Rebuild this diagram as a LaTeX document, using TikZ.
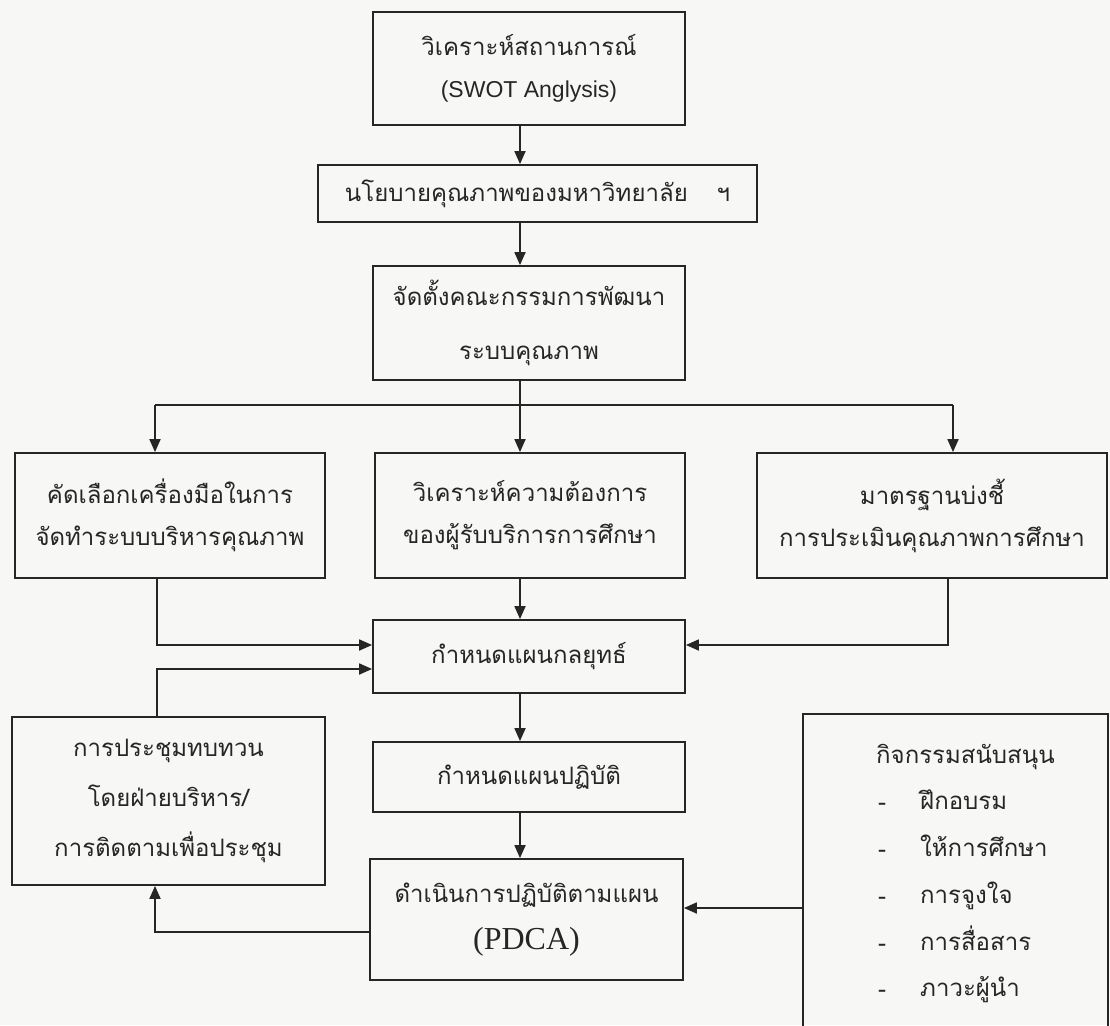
\documentclass[tikz,border=0pt]{standalone}
\usepackage{fontspec}
\newfontfamily\thaifont[Script=Thai]{Loma}
\newfontfamily\arialfont{Liberation Sans}
\newfontfamily\timesfont{Liberation Serif}
\usetikzlibrary{arrows.meta}
\definecolor{ink}{HTML}{262626}
\definecolor{paper}{HTML}{F7F7F5}
\begin{document}
\begin{tikzpicture}[x=1pt,y=-1pt,
  box/.style={draw=ink, line width=1.8pt, inner sep=0pt, align=center, text=ink,
    font=\thaifont\fontsize{24}{42}\selectfont},
  txt/.style={inner sep=0pt, text=ink, anchor=base west, font=\thaifont\fontsize{24}{30}\selectfont},
  ln/.style={draw=ink, line width=1.8pt},
  arr/.style={draw=ink, line width=1.8pt, -{Triangle[length=13pt,width=11pt]}}]
\useasboundingbox (0,0) rectangle (1110,1025);
\fill[paper] (0,0) rectangle (1110,1025);
\clip (0,0) rectangle (1110,1025);

\node[box, minimum width=312pt, minimum height=113pt] (swot) at (529,68.5)
  {วิเคราะห์สถานการณ์\\{\arialfont\fontsize{23}{28}\selectfont (SWOT Anglysis)}};
\node[box, minimum width=439pt, minimum height=57pt] (policy) at (537.5,193.5)
  {นโยบายคุณภาพของมหาวิทยาลัย\hspace{1.2em}ฯ};
\node[box, minimum width=312pt, minimum height=114pt, font=\thaifont\fontsize{24}{54}\selectfont] (comm) at (529,323)
  {จัดตั้งคณะกรรมการพัฒนา\\ระบบคุณภาพ};
\node[box, minimum width=310pt, minimum height=125pt] (sel) at (170,515.5)
  {คัดเลือกเครื่องมือในการ\\จัดทำระบบบริหารคุณภาพ};
\node[box, minimum width=310pt, minimum height=125pt] (need) at (530,515.5)
  {วิเคราะห์ความต้องการ\\ของผู้รับบริการการศึกษา};
\node[box, minimum width=350pt, minimum height=125pt] (std) at (932,515.5)
  {มาตรฐานบ่งชี้\\การประเมินคุณภาพการศึกษา};
\node[box, minimum width=312pt, minimum height=73pt] (strat) at (529,656.5)
  {กำหนดแผนกลยุทธ์};
\node[box, minimum width=313pt, minimum height=168pt, font=\thaifont\fontsize{24}{50}\selectfont] (rev) at (168.5,801)
  {การประชุมทบทวน\\โดยฝ่ายบริหาร/\\การติดตามเพื่อประชุม};
\node[box, minimum width=312pt, minimum height=70pt] (act) at (529,777)
  {กำหนดแผนปฏิบัติ};
\node[box, minimum width=313pt, minimum height=121pt, font=\thaifont\fontsize{24}{47}\selectfont] (pdca) at (526.5,919.5)
  {ดำเนินการปฏิบัติตามแผน\\{\timesfont\fontsize{32}{47}\selectfont (PDCA)}};
\node[box, minimum width=305pt, minimum height=330pt] (sup) at (955.5,879) {};

\node[txt] (s0) at (876,763) {กิจกรรมสนับสนุน};
\node[txt] (d1) at (878,809) {\raisebox{-1.5pt}{-}};
\node[txt] (s1) at (920,809) {ฝึกอบรม};
\node[txt] (d2) at (878,856) {\raisebox{-1.5pt}{-}};
\node[txt] (s2) at (920,856) {ให้การศึกษา};
\node[txt] (d3) at (878,903) {\raisebox{-1.5pt}{-}};
\node[txt] (s3) at (920,903) {การจูงใจ};
\node[txt] (d4) at (878,950) {\raisebox{-1.5pt}{-}};
\node[txt] (s4) at (920,950) {การสื่อสาร};
\node[txt] (d5) at (878,996) {\raisebox{-1.5pt}{-}};
\node[txt] (s5) at (920,996) {ภาวะผู้นำ};

\coordinate (xa) at (520,0);
\coordinate (xl) at (155,0);
\coordinate (xl2) at (157,0);
\coordinate (xr) at (953,0);
\coordinate (xr2) at (948,0);
\coordinate (jy) at (0,405);
\coordinate (y1) at (0,645);
\coordinate (y2) at (0,669);
\coordinate (y3) at (0,908);
\coordinate (y4) at (0,932);

\draw[arr] (xa |- swot.south) -- (xa |- policy.north);
\draw[arr] (xa |- policy.south) -- (xa |- comm.north);
\draw[ln] (xa |- comm.south) -- (xa |- jy);
\draw[ln] (xl |- jy) -- (xr |- jy);
\draw[arr] (xl |- jy) -- (xl |- sel.north);
\draw[arr] (xa |- jy) -- (xa |- need.north);
\draw[arr] (xr |- jy) -- (xr |- std.north);
\draw[arr] (xa |- need.south) -- (xa |- strat.north);
\draw[arr] (xl2 |- sel.south) |- (strat.west |- y1);
\draw[arr] (xl2 |- rev.north) |- (strat.west |- y2);
\draw[arr] (xr2 |- std.south) |- (strat.east |- y1);
\draw[arr] (xa |- strat.south) -- (xa |- act.north);
\draw[arr] (xa |- act.south) -- (xa |- pdca.north);
\draw[arr] (sup.west |- y3) -- (pdca.east |- y3);
\draw[arr] (pdca.west |- y4) -| (xl |- rev.south);
\end{tikzpicture}
\end{document}
